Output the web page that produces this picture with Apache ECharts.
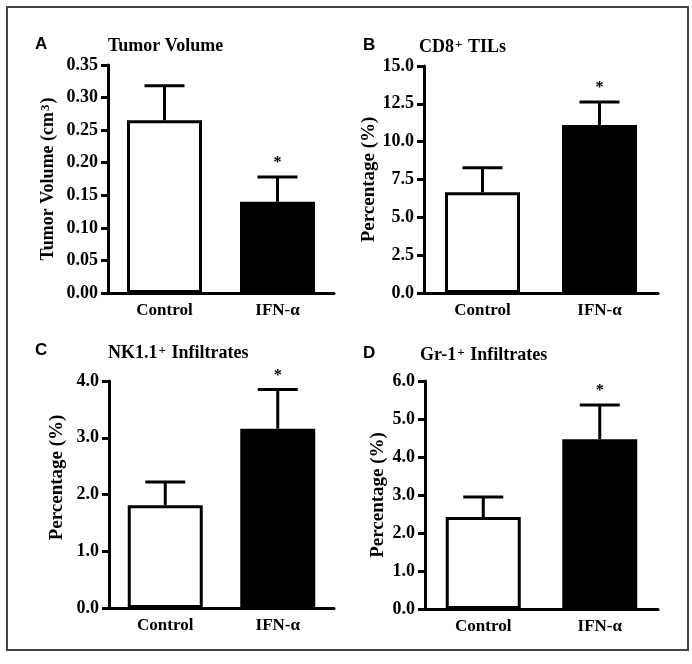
<!DOCTYPE html>
<html>
<head>
<meta charset="utf-8">
<script src="https://cdn.jsdelivr.net/npm/echarts@6/dist/echarts.min.js"></script>
<style>
  html, body { margin: 0; padding: 0; background: #fff; }
  #chart { width: 692px; height: 664px; }
</style>
</head>
<body>
<div id="chart"></div>
<script>
// ---- data ----
const categories = ['Control', 'IFN-α'];
const significance = ['', '*'];

const tumorMean = [0.265, 0.140];
const tumorSem = [0.053, 0.038];

const cd8Mean = [6.65, 11.1];
const cd8Sem = [1.62, 1.52];

const nkMean = [1.81, 3.16];
const nkSem = [0.41, 0.69];

const gr1Mean = [2.42, 4.47];
const gr1Sem = [0.53, 0.90];

const tumorTicks = { min: 0, max: 0.35, interval: 0.05, digits: 2 };
const cd8Ticks = { min: 0, max: 15, interval: 2.5, digits: 1 };
const nkTicks = { min: 0, max: 4, interval: 1, digits: 1 };
const gr1Ticks = { min: 0, max: 6, interval: 1, digits: 1 };

// ---- styling helpers ----
const SERIF = 'Liberation Serif';
const SANS = 'Liberation Sans';
const barFill = ['#ffffff', '#000000'];

const panels = [
  { letter: 'A', title: 'Tumor Volume', yName: 'Tumor Volume (cm{sup|3})', mean: tumorMean, sem: tumorSem, ticks: tumorTicks,
    grid: { left: 108, top: 65, width: 226, height: 228 }, nameGap: 51, namePad: 0, nameSize: 18,
    letterPos: [35, 36], titlePos: [108, 37] },
  { letter: 'B', title: 'CD8{sup|+} TILs', yName: 'Percentage (%)', mean: cd8Mean, sem: cd8Sem, ticks: cd8Ticks,
    grid: { left: 424, top: 66, width: 234, height: 227 }, nameGap: 43, namePad: 0, nameSize: 19,
    letterPos: [363, 37], titlePos: [419, 38] },
  { letter: 'C', title: 'NK1.1{sup|+} Infiltrates', yName: 'Percentage (%)', mean: nkMean, sem: nkSem, ticks: nkTicks,
    grid: { left: 109, top: 381, width: 225, height: 227 }, nameGap: 42, namePad: 34, nameSize: 19,
    letterPos: [35, 342], titlePos: [108, 344] },
  { letter: 'D', title: 'Gr-1{sup|+} Infiltrates', yName: 'Percentage (%)', mean: gr1Mean, sem: gr1Sem, ticks: gr1Ticks,
    grid: { left: 425, top: 381, width: 233, height: 228 }, nameGap: 37, namePad: 0, nameSize: 19,
    letterPos: [363, 345], titlePos: [420, 346] }
];

const supRich = {
  sup: { fontFamily: SERIF, fontWeight: 'bold', fontSize: 13, verticalAlign: 'top', lineHeight: 13, padding: [0, 1, 7, 1] }
};

const grids = [], xAxes = [], yAxes = [], series = [], titles = [];

panels.forEach((p, i) => {
  grids.push(Object.assign({ containLabel: false }, p.grid));

  xAxes.push({
    type: 'category', gridIndex: i, data: categories,
    axisLine: { lineStyle: { color: '#000', width: 3 } },
    axisTick: { alignWithLabel: true, length: 6, lineStyle: { color: '#000', width: 3 } },
    axisLabel: { color: '#000', fontFamily: SERIF, fontWeight: 'bold', fontSize: 17, margin: 9 },
    splitLine: { show: false }
  });

  yAxes.push({
    type: 'value', gridIndex: i,
    min: p.ticks.min, max: p.ticks.max, interval: p.ticks.interval,
    name: p.yName, nameLocation: 'middle', nameGap: p.nameGap,
    nameTextStyle: { color: '#000', fontFamily: SERIF, fontWeight: 'bold', fontSize: p.nameSize,
      padding: [0, 0, 0, p.namePad], rich: supRich },
    axisLine: { show: true, lineStyle: { color: '#000', width: 3 } },
    axisTick: { show: true, length: 7, lineStyle: { color: '#000', width: 3 } },
    axisLabel: { color: '#000', fontFamily: SERIF, fontWeight: 'bold', fontSize: 18, margin: 10,
      formatter: v => v.toFixed(p.ticks.digits) },
    splitLine: { show: false }
  });

  series.push({
    type: 'bar', xAxisIndex: i, yAxisIndex: i, barWidth: 75, silent: true,
    data: p.mean.map((v, k) => ({ value: v, itemStyle: { color: barFill[k] } })),
    itemStyle: { borderColor: '#000', borderWidth: 3 },
    z: 2
  });

  series.push({
    type: 'custom', xAxisIndex: i, yAxisIndex: i, silent: true, z: 3,
    data: p.mean.map((v, k) => [k, v, v + p.sem[k], significance[k]]),
    encode: { x: 0, y: 2 },
    renderItem: function (params, api) {
      const base = api.coord([api.value(0), api.value(1)]);
      const top = api.coord([api.value(0), api.value(2)]);
      const capHalf = 20;
      const children = [
        { type: 'line', shape: { x1: base[0], y1: base[1], x2: top[0], y2: top[1] },
          style: { stroke: '#000', lineWidth: 3 } },
        { type: 'line', shape: { x1: top[0] - capHalf, y1: top[1], x2: top[0] + capHalf, y2: top[1] },
          style: { stroke: '#000', lineWidth: 3 } }
      ];
      const mark = significance[params.dataIndex];
      if (mark) {
        children.push({ type: 'text', style: { text: mark, x: top[0], y: top[1] - 14,
          align: 'center', verticalAlign: 'middle', fill: '#000',
          font: 'bold 16px "' + SERIF + '"' } });
      }
      return { type: 'group', children: children };
    }
  });

  titles.push({
    text: p.letter, left: p.letterPos[0], top: p.letterPos[1], padding: 0,
    textStyle: { color: '#000', fontFamily: SANS, fontWeight: 'bold', fontSize: 17 }
  });
  titles.push({
    text: p.title, left: p.titlePos[0], top: p.titlePos[1], padding: 0,
    textStyle: { color: '#000', fontFamily: SERIF, fontWeight: 'bold', fontSize: 18, rich: supRich }
  });
});

const chart = echarts.init(document.getElementById('chart'), null, { renderer: 'canvas' });
chart.setOption({
  animation: false,
  backgroundColor: '#ffffff',
  title: titles,
  grid: grids,
  xAxis: xAxes,
  yAxis: yAxes,
  series: series,
  graphic: [{
    type: 'rect', silent: true,
    shape: { x: 7, y: 7, width: 681, height: 643 },
    style: { fill: 'none', stroke: '#444', lineWidth: 2 }
  }]
});
</script>
</body>
</html>
